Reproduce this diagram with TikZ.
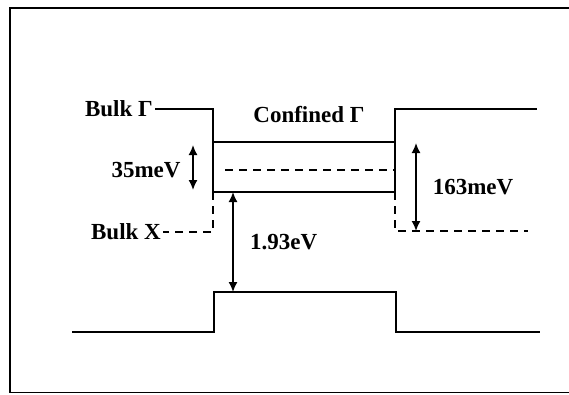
\documentclass[tikz,border=0pt]{standalone}
\usepackage{fontspec}
\setmainfont{Liberation Serif}
\usetikzlibrary{arrows.meta}
\begin{document}
\begin{tikzpicture}[x=1pt,y=-1pt,
  lvl/.style={line width=1.6pt},
  dlvl/.style={line width=1.5pt,dash pattern=on 8pt off 6pt},
  frm/.style={line width=1.6pt},
  dim/.style={line width=1.6pt,{Latex[length=10pt,width=9pt]}-{Latex[length=10pt,width=9pt]}},
  lbl/.style={font=\fontsize{23}{26}\selectfont\bfseries,inner sep=2pt}]
\useasboundingbox (0,0) rectangle (569,394);
% frame
\draw[frm] (569,8) -- (10,8) -- (10,392.5) -- (569,392.5);
% labels
\node[lbl,anchor=east] (bulkG) at (155,109) {Bulk Γ};
\node[lbl] (conf) at (309,115) {Confined Γ};
\node[lbl] (m35) at (146,170) {35meV};
\node[lbl,anchor=east] (bulkX) at (163,232) {Bulk X};
\node[lbl,anchor=west] (e193) at (248,242) {1.93eV};
\node[lbl] (m163) at (473,187) {163meV};
% coordinates
\coordinate (lt) at (213,109);
\coordinate (ltb) at (213,142);
\coordinate (lb) at (213,192);
\coordinate (lx) at (213,232);
\coordinate (rt) at (395,109);
\coordinate (rtb) at (395,142);
\coordinate (rb) at (395,192);
\coordinate (rx) at (395,231);
\coordinate (rxe) at (528,231);
\coordinate (rte) at (537,109);
\coordinate (dml) at (225,170);
\coordinate (dmr) at (395,170);
\coordinate (v1) at (72,332);
\coordinate (v2) at (214,332);
\coordinate (v3) at (214,292);
\coordinate (v4) at (396,292);
\coordinate (v5) at (396,332);
\coordinate (v6) at (540,332);
\coordinate (a35t) at (193,145);
\coordinate (a35b) at (193,190);
\coordinate (a163t) at (416,143);
\coordinate (a163b) at (416,231);
\coordinate (agt) at (233,192);
\coordinate (agb) at (233,292);
% conduction band
\draw[lvl] (bulkG.east) -- (lt) -- (lb) -- (rb) -- (rt) -- (rte);
\draw[lvl] (ltb) -- (rtb);
\draw[dlvl] (dml) -- (dmr);
\draw[dlvl] (lb) -- (lx) -- (bulkX.east);
\draw[dlvl] (rb) -- (rx) -- (rxe);
% valence band
\draw[lvl] (v1) -- (v2) -- (v3) -- (v4) -- (v5) -- (v6);
% dimension arrows
\draw[dim] (a35t) -- (a35b);
\draw[dim] (a163t) -- (a163b);
\draw[dim] (agt) -- (agb);
\end{tikzpicture}
\end{document}
